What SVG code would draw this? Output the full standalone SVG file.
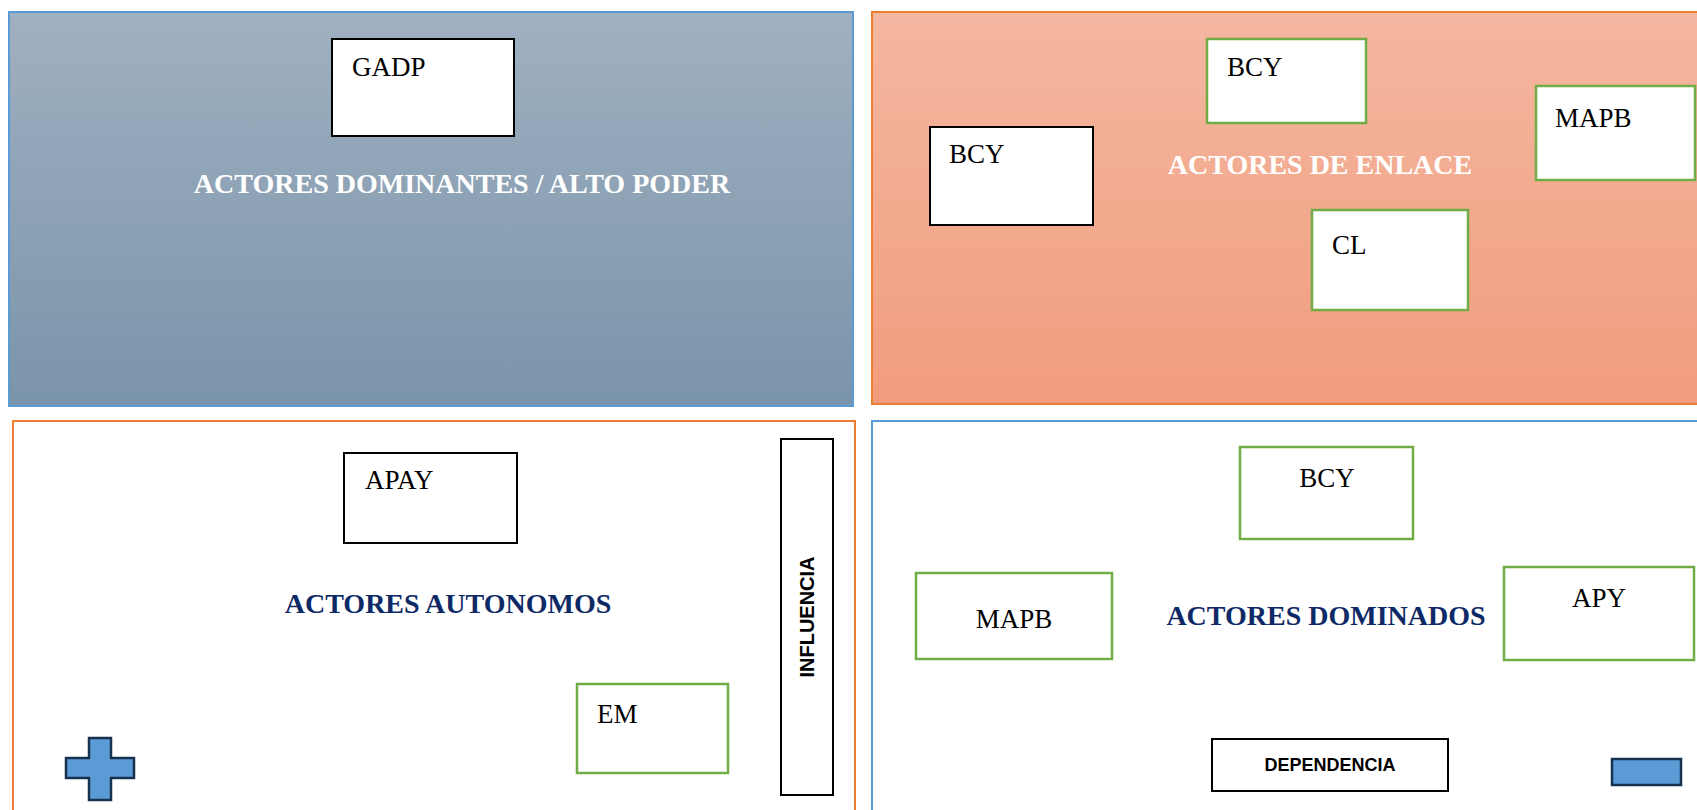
<svg xmlns="http://www.w3.org/2000/svg" width="1697" height="810" viewBox="0 0 1697 810">
<defs>
<linearGradient id="gBlue" x1="0" y1="0" x2="0" y2="1">
<stop offset="0" stop-color="#A0B0C1"/>
<stop offset="1" stop-color="#7A94AA"/>
</linearGradient>
<linearGradient id="gSalmon" x1="0" y1="0" x2="0" y2="1">
<stop offset="0" stop-color="#F4B7A1"/>
<stop offset="1" stop-color="#F19D7D"/>
</linearGradient>
</defs>
<style>
.node{fill:#FFFFFF;stroke-width:2}
.blk{stroke:#000000}
.grn{stroke:#70AD47;stroke-width:2.5}
.lbl{font-family:"Liberation Serif","Times New Roman",serif;font-size:27px;fill:#000000}
.title{font-family:"Liberation Serif","Times New Roman",serif;font-size:28px;font-weight:bold}
.w{fill:#FFFFFF}
.n{fill:#0E2A66}
.sans{font-family:"Liberation Sans",Arial,sans-serif;font-weight:bold;fill:#000000}
.shape{fill:#5B9BD5;stroke:#17324F;stroke-width:2.5}
</style>
<rect width="1697" height="810" fill="#FFFFFF"/>

<g id="panel-dominantes">
<rect x="9" y="12" width="844" height="394" fill="url(#gBlue)" stroke="#5B9BD5" stroke-width="2"/>
<text class="title w" x="462" y="193" text-anchor="middle">ACTORES DOMINANTES / ALTO PODER</text>
</g>
<g id="panel-enlace">
<rect x="872" y="12" width="830" height="392" fill="url(#gSalmon)" stroke="#ED7D31" stroke-width="2"/>
<text class="title w" x="1320" y="174" text-anchor="middle">ACTORES DE ENLACE</text>
</g>
<g id="panel-autonomos">
<rect x="13" y="421" width="842" height="400" fill="#FFFFFF" stroke="#ED7D31" stroke-width="2"/>
<text class="title n" x="448" y="613" text-anchor="middle">ACTORES AUTONOMOS</text>
</g>
<g id="panel-dominados">
<rect x="872" y="421" width="830" height="400" fill="#FFFFFF" stroke="#5B9BD5" stroke-width="2"/>
<text class="title n" x="1326" y="625" text-anchor="middle">ACTORES DOMINADOS</text>
</g>

<g id="connectors"></g>

<g id="node-gadp">
<rect class="node blk" x="332" y="39" width="182" height="97"/>
<text class="lbl" x="352" y="76">GADP</text>
</g>
<g id="node-bcy-enlace-top">
<rect class="node grn" x="1207" y="39" width="159" height="84"/>
<text class="lbl" x="1227" y="76">BCY</text>
</g>
<g id="node-mapb-enlace">
<rect class="node grn" x="1536" y="86" width="159" height="94"/>
<text class="lbl" x="1555" y="127">MAPB</text>
</g>
<g id="node-bcy-enlace-left">
<rect class="node blk" x="930" y="127" width="163" height="98"/>
<text class="lbl" x="949" y="163">BCY</text>
</g>
<g id="node-cl">
<rect class="node grn" x="1312" y="210" width="156" height="100"/>
<text class="lbl" x="1332" y="254">CL</text>
</g>
<g id="node-apay">
<rect class="node blk" x="344" y="453" width="173" height="90"/>
<text class="lbl" x="365" y="489">APAY</text>
</g>
<g id="node-em">
<rect class="node grn" x="577" y="684" width="151" height="89"/>
<text class="lbl" x="597" y="723">EM</text>
</g>
<g id="node-influencia">
<rect class="node blk" x="781" y="439" width="52" height="356"/>
<text class="sans" x="0" y="0" font-size="20" text-anchor="middle" transform="translate(814,617) rotate(-90)">INFLUENCIA</text>
</g>
<g id="node-plus">
<path class="shape" d="M89,738 H111 V758 H134 V778 H111 V800 H89 V778 H66 V758 H89 Z"/>
</g>
<g id="node-bcy-dominados">
<rect class="node grn" x="1240" y="447" width="173" height="92"/>
<text class="lbl" x="1327" y="487" text-anchor="middle">BCY</text>
</g>
<g id="node-mapb-dominados">
<rect class="node grn" x="916" y="573" width="196" height="86"/>
<text class="lbl" x="1014" y="628" text-anchor="middle">MAPB</text>
</g>
<g id="node-apy">
<rect class="node grn" x="1504" y="567" width="190" height="93"/>
<text class="lbl" x="1599" y="607" text-anchor="middle">APY</text>
</g>
<g id="node-dependencia">
<rect class="node blk" x="1212" y="739" width="236" height="52"/>
<text class="sans" x="1330" y="771" font-size="18" text-anchor="middle">DEPENDENCIA</text>
</g>
<g id="node-minus">
<rect class="shape" x="1612" y="759" width="69" height="26"/>
</g>
</svg>
